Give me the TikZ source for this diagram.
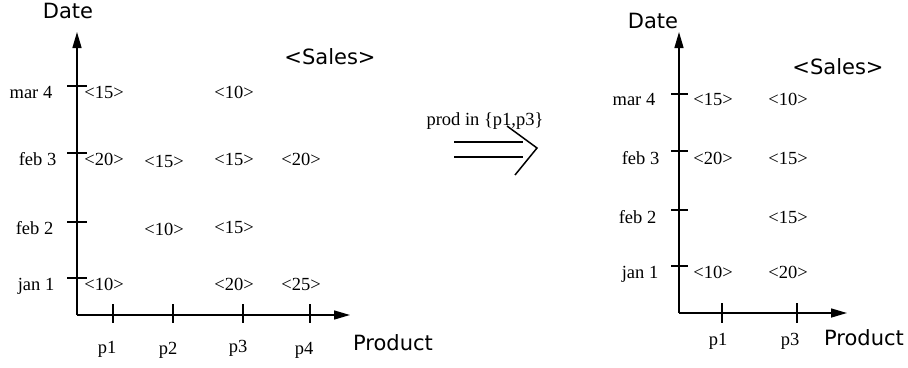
\documentclass[tikz,border=0pt]{standalone}
\usepackage{fontspec}
\setmainfont{Liberation Serif}
\newfontfamily\axisfont{DejaVu Sans}
\usetikzlibrary{arrows.meta}

\begin{document}
\begin{tikzpicture}[x=1pt, y=-1pt, line width=1.5pt, >={Triangle[length=16pt, width=9pt]},
    val/.style={anchor=base, inner sep=0pt, font=\fontsize{18.5}{22}\selectfont},
    datelbl/.style={anchor=base east, inner sep=0pt, font=\fontsize{18.5}{22}\selectfont},
    axislbl/.style={anchor=base, inner sep=0pt, font=\axisfont\fontsize{21}{25}\selectfont}]

\useasboundingbox (0,0) rectangle (908,367);

% left cube
\coordinate (O1) at (77,315);
\coordinate (Y1) at (77,32);
\coordinate (X1) at (350,315);
\draw[->] (O1) -- (Y1);
\draw[->] (O1) -- (X1);
\foreach \y in {86,153,222,278}
    \draw (67,\y) -- (87,\y);
\foreach \x in {113,173,243,310}
    \draw (\x,304) -- (\x,323);

    \node[axislbl] (date1) at (68,18) {Date};
    \node[axislbl] (prod1) at (393,350) {Product};
    \node[axislbl] (sales1) at (330,64) {<Sales>};

    \node[datelbl] (mar1) at (53,98) {mar 4};
    \node[datelbl] (feb31) at (57,165) {feb 3};
    \node[datelbl] (feb21) at (54,234) {feb 2};
    \node[datelbl] (jan1) at (55,290) {jan 1};

    \node[val] (pa1) at (107,353) {p1};
    \node[val] (pb1) at (168,354) {p2};
    \node[val] (pc1) at (238,352) {p3};
    \node[val] (pd1) at (304,354) {p4};

    \node[val] (m11) at (104,98) {<15>};
    \node[val] (m13) at (234,98) {<10>};
    \node[val] (f11) at (104,165) {<20>};
    \node[val] (f12) at (164,167) {<15>};
    \node[val] (f13) at (234,165) {<15>};
    \node[val] (f14) at (301,165) {<20>};
    \node[val] (g12) at (164,235) {<10>};
    \node[val] (g13) at (234,233) {<15>};
    \node[val] (j11) at (104,290) {<10>};
    \node[val] (j13) at (234,290) {<20>};
    \node[val] (j14) at (301,290) {<25>};

% slice arrow
    \node[val] (cond) at (485,125) {prod in \{p1,p3\}};
\coordinate (a1) at (454,142);
\coordinate (a2) at (523,142);
\coordinate (b1) at (454,157);
\coordinate (b2) at (523,157);
\coordinate (h1) at (507,126);
\coordinate (h2) at (537,148);
\coordinate (h3) at (515,175);
\draw (a1) -- (a2);
\draw (b1) -- (b2);
\draw (h1) -- (h2) -- (h3);

% right cube
\coordinate (O2) at (679,313);
\coordinate (Y2) at (679,32);
\coordinate (X2) at (847,313);
\draw[->] (O2) -- (Y2);
\draw[->] (O2) -- (X2);
\foreach \y in {94,151,210,266}
    \draw (671,\y) -- (688,\y);
\foreach \x in {722,797}
    \draw (\x,303) -- (\x,323);

    \node[axislbl] (date2) at (653,28) {Date};
    \node[axislbl] (prod2) at (864,345) {Product};
    \node[axislbl] (sales2) at (838,74) {<Sales>};

    \node[datelbl] (mar2) at (656,105) {mar 4};
    \node[datelbl] (feb32) at (660,164) {feb 3};
    \node[datelbl] (feb22) at (657,223) {feb 2};
    \node[datelbl] (jan2) at (659,278) {jan 1};

    \node[val] (pa2) at (718,345) {p1};
    \node[val] (pc2) at (790,345) {p3};

    \node[val] (m21) at (713,105) {<15>};
    \node[val] (m23) at (788,105) {<10>};
    \node[val] (f21) at (713,164) {<20>};
    \node[val] (f23) at (788,164) {<15>};
    \node[val] (g23) at (788,223) {<15>};
    \node[val] (j21) at (713,278) {<10>};
    \node[val] (j23) at (788,278) {<20>};
\end{tikzpicture}
\end{document}
